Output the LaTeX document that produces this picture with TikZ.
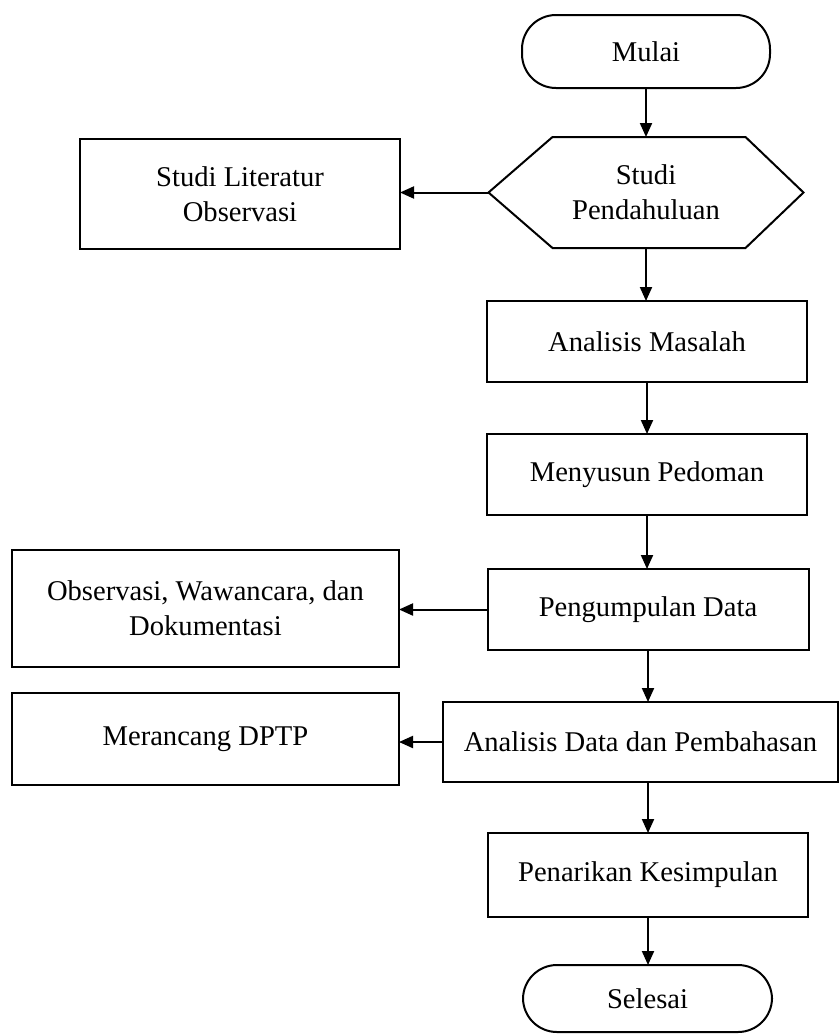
\documentclass[tikz,border=0pt]{standalone}
\usepackage{fontspec}
\setmainfont{Liberation Serif}
\usetikzlibrary{arrows.meta}
\begin{document}
\begin{tikzpicture}[x=0.5pt,y=-0.5pt,
  line width=1pt,
  every node/.style={inner sep=0pt,outer sep=0pt,align=center,
    font=\fontsize{14.3pt}{17.5pt}\selectfont},
  procbox/.style={draw,rectangle},
  termbox/.style={draw,rectangle,rounded corners=17pt},
  arr/.style={-{Triangle[length=7pt,width=6pt]}}]
\useasboundingbox (0,0) rectangle (840,1034);
\node[termbox,minimum width=124pt,minimum height=36.5pt] (mulai) at (646,51.5) {Mulai};
\node[minimum width=157.5pt,minimum height=55.5pt] (hex) at (646,192.5) {Studi\\Pendahuluan};
\draw (hex.west) -- ([xshift=32pt]hex.north west) -- ([xshift=-29pt]hex.north east)
  -- (hex.east) -- ([xshift=-29pt]hex.south east) -- ([xshift=32pt]hex.south west) -- cycle;
\node[procbox,minimum width=160pt,minimum height=55pt] (lit) at (240,194) {Studi Literatur\\Observasi};
\node[procbox,minimum width=160pt,minimum height=40.5pt] (am) at (647,341.5) {Analisis Masalah};
\node[procbox,minimum width=160pt,minimum height=40.5pt] (mp) at (647,474.5) {Menyusun Pedoman};
\node[procbox,minimum width=160.5pt,minimum height=40.5pt] (pd) at (648,609.5) {Pengumpulan Data};
\node[procbox,minimum width=193.5pt,minimum height=58.5pt] (obs) at (205.5,608.5) {Observasi, Wawancara, dan\\Dokumentasi};
\node[procbox,minimum width=197.5pt,minimum height=40pt] (ad) at (640.5,742) {Analisis Data dan Pembahasan};
\node[procbox,minimum width=193.5pt,minimum height=46pt] (mer) at (205.5,739) {Merancang DPTP};
\node[procbox,minimum width=160pt,minimum height=42pt] (pk) at (648,875) {Penarikan Kesimpulan};
\node[termbox,minimum width=124.5pt,minimum height=33.5pt] (sel) at (647.5,998.5) {Selesai};
\draw[arr] (mulai.south) -- (mulai.south |- hex.north);
\draw[arr] (hex.west) -- (hex.west -| lit.east);
\draw[arr] (hex.south) -- (hex.south |- am.north);
\draw[arr] (am.south) -- (am.south |- mp.north);
\draw[arr] (mp.south) -- (mp.south |- pd.north);
\draw[arr] (pd.west) -- (pd.west -| obs.east);
\draw[arr] (pd.south) -- (pd.south |- ad.north);
\draw[arr] (ad.west) -- (ad.west -| mer.east);
\draw[arr] (pd.south |- ad.south) -- (pd.south |- pk.north);
\draw[arr] (pk.south) -- (pk.south |- sel.north);
\end{tikzpicture}
\end{document}
